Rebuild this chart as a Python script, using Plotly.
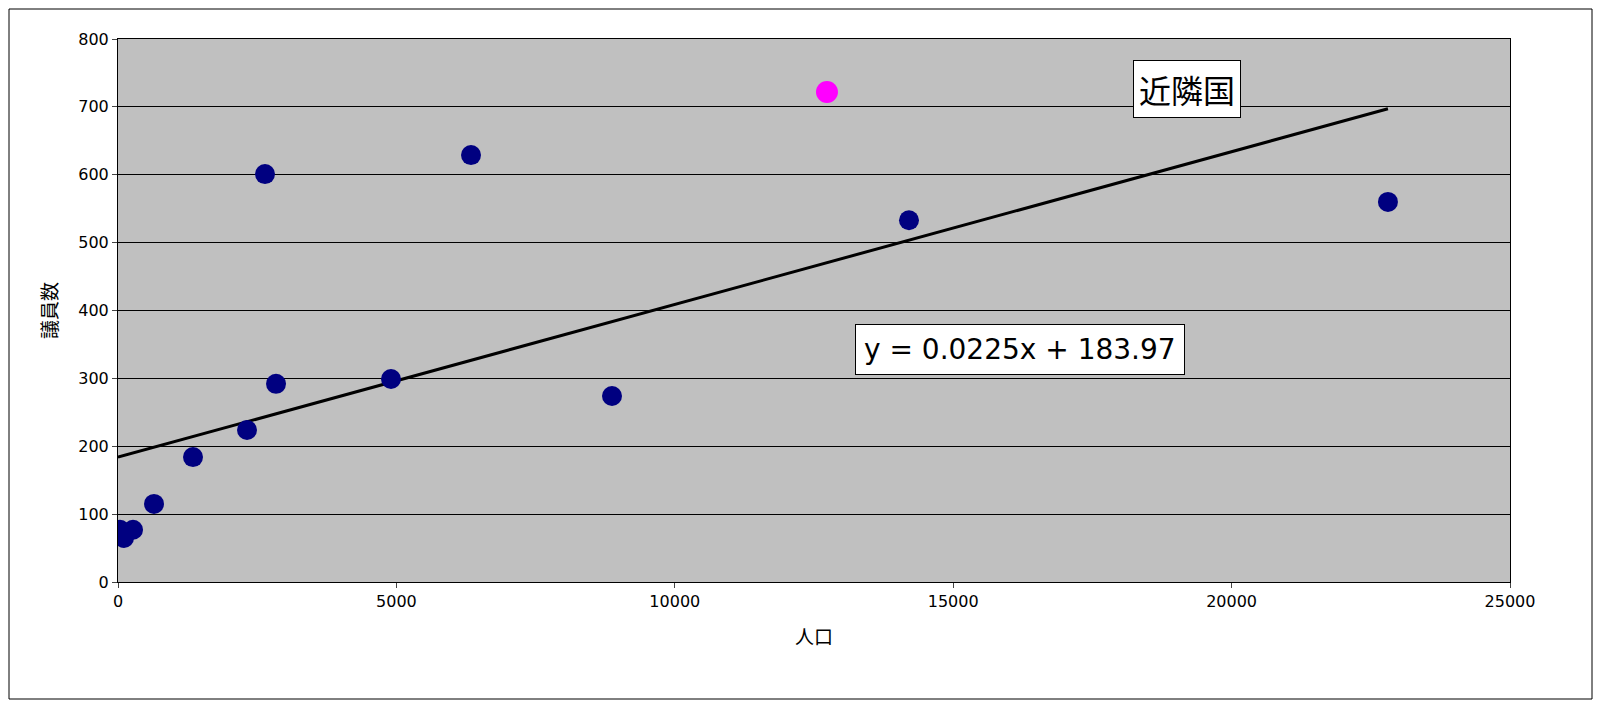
import plotly.graph_objects as go

pop = [36, 108, 270, 647, 1347, 2317, 2640, 2838, 4903, 6340, 8872, 14206, 22808]
seats = [77, 65, 77, 115, 184, 224, 601, 292, 299, 629, 274, 533, 560]
hl_pop = [12733]
hl_seats = [722]
slope, intercept = 0.0225, 183.97
trend_x = [0, 22808]
trend_y = [slope * v + intercept for v in trend_x]

fig = go.Figure()
fig.add_trace(go.Scatter(x=trend_x, y=trend_y, mode="lines", line=dict(color="black", width=3)))
fig.add_trace(go.Scatter(x=pop, y=seats, mode="markers", marker=dict(color="#000080", size=20)))
fig.add_trace(go.Scatter(x=hl_pop, y=hl_seats, mode="markers", marker=dict(color="#FF00FF", size=22)))

font = "Noto Sans CJK JP"
fig.add_annotation(x=19200, y=727, text="近隣国", showarrow=False, bgcolor="white",
                   bordercolor="black", borderwidth=1, font=dict(size=32, color="black", family=font), borderpad=5)
fig.add_annotation(x=16200, y=343, text="y = 0.0225x + 183.97", showarrow=False, bgcolor="white",
                   bordercolor="black", borderwidth=1, font=dict(size=28, color="black", family="DejaVu Sans"), borderpad=8)

W, H, L, T, PW, PH = 1585, 692, 110, 31, 1392, 543
fig.update_layout(
    width=W, height=H, showlegend=False,
    paper_bgcolor="white", plot_bgcolor="#C0C0C0",
    margin=dict(l=L, r=W - L - PW, t=T, b=H - T - PH),
    font=dict(family="DejaVu Sans", size=16, color="black"),
    xaxis=dict(range=[0, 25000], dtick=5000, tickformat="d", showgrid=False, zeroline=False,
               showline=True, linecolor="black", ticks="outside", ticklen=5,
               title=dict(text="人口", standoff=20, font=dict(family=font)), mirror=True),
    yaxis=dict(range=[0, 800], dtick=100, showgrid=True, gridcolor="black", gridwidth=1,
               zeroline=False, showline=True, linecolor="black", ticks="outside", ticklen=5,
               title=dict(text="議員数", standoff=15, font=dict(family=font)), mirror=True),
    shapes=[dict(type="rect", xref="paper", yref="paper",
                 x0=-(L - 1) / PW, x1=(W - L - 1) / PW,
                 y0=-(H - T - PH - 1) / PH, y1=1 + (T - 1) / PH,
                 line=dict(color="black", width=1))],
)
fig.write_html("out.html")
